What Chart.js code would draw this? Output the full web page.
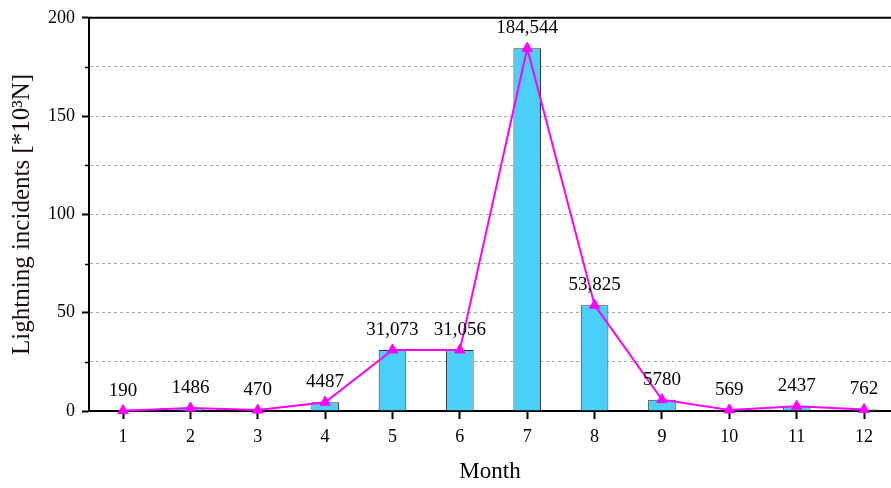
<!DOCTYPE html>
<html>
<head>
<meta charset="utf-8">
<script src="https://cdn.jsdelivr.net/npm/chart.js@4/dist/chart.umd.min.js"></script>
<style>
  html, body { margin: 0; padding: 0; background: #fff; overflow: hidden; }
  #c { display: block; }
</style>
</head>
<body>
<canvas id="c" width="898" height="488"></canvas>
<script>
// Monthly lightning incidents (raw counts)
const months = [1, 2, 3, 4, 5, 6, 7, 8, 9, 10, 11, 12];
const incidents = [190, 1486, 470, 4487, 31073, 31056, 184544, 53825, 5780, 569, 2437, 762];
const yTicks = [0, 50, 100, 150, 200];

// plotted in thousands
const valuesK = incidents.map(v => v / 1000);
const points = months.map((m, i) => ({ x: m, y: valuesK[i] }));

// labels: comma grouping only for five-digit counts and above
const fmt = v => v >= 10000 ? v.toLocaleString('en-US') : String(v);

const FONT = "'Liberation Serif', 'Times New Roman', serif";

const framePlugin = {
  id: 'frame',
  afterDraw(chart) {
    const { ctx, chartArea: a, scales: { y } } = chart;
    ctx.save();
    ctx.strokeStyle = '#000';
    // top frame line
    ctx.lineWidth = 2;
    ctx.beginPath();
    ctx.moveTo(a.left - 1, a.top);
    ctx.lineTo(chart.width, a.top);
    ctx.stroke();
    // short minor ticks between labelled values
    ctx.lineWidth = 1.5;
    for (let v = 25; v < 200; v += 50) {
      const py = Math.round(y.getPixelForValue(v)) + 0.5;
      ctx.beginPath();
      ctx.moveTo(a.left - 4, py);
      ctx.lineTo(a.left, py);
      ctx.stroke();
    }
    ctx.restore();
  },
  afterDatasetsDraw(chart) {
    const { ctx, scales: { x, y } } = chart;
    ctx.save();
    ctx.font = '19px ' + FONT;
    ctx.fillStyle = '#000';
    ctx.textAlign = 'center';
    ctx.textBaseline = 'middle';
    incidents.forEach((v, i) => {
      const px = x.getPixelForValue(months[i]);
      const py = y.getPixelForValue(valuesK[i]) - 20;
      ctx.fillText(fmt(v), px, py);
    });
    ctx.restore();
  }
};

new Chart(document.getElementById('c'), {
  data: {
    datasets: [
      {
        type: 'line',
        data: points,
        borderColor: '#ff00ff',
        backgroundColor: '#ff00ff',
        borderWidth: 2,
        tension: 0,
        pointStyle: 'triangle',
        pointRadius: 6,
        pointBorderWidth: 1,
        pointBorderColor: '#ff00ff',
        clip: false,
        order: 0
      },
      {
        type: 'bar',
        data: points,
        backgroundColor: '#49cff8',
        borderColor: '#333',
        borderWidth: 1,
        categoryPercentage: 1,
        barPercentage: 0.41,
        order: 1
      }
    ]
  },
  options: {
    responsive: false,
    animation: false,
    events: [],
    layout: { padding: { top: 15, right: 0, bottom: 0, left: 0 } },
    plugins: { legend: { display: false }, tooltip: { enabled: false } },
    scales: {
      x: {
        type: 'linear',
        offset: false,
        min: 0.495,
        max: 12.4,
        afterBuildTicks(s) { s.ticks = months.map(m => ({ value: m })); },
        grid: {
          offset: false,
          drawOnChartArea: false,
          drawTicks: true,
          tickLength: 8,
          tickWidth: 2,
          tickColor: '#000'
        },
        border: { display: true, color: '#000', width: 2 },
        ticks: {
          color: '#000',
          padding: 7,
          maxRotation: 0,
          autoSkip: false,
          font: { family: FONT, size: 18 },
          callback: v => String(v)
        },
        title: {
          display: true,
          text: 'Month',
          color: '#000',
          padding: { top: 0, bottom: 2 },
          font: { family: FONT, size: 23 }
        },
        afterFit(s) {
          s.height = 77;
          s.paddingLeft = 0;
          s.paddingRight = 0;
        }
      },
      y: {
        min: 0,
        max: 200,
        afterBuildTicks(s) {
          s.ticks = [];
          for (let v = 0; v <= 200; v += 25) s.ticks.push({ value: v });
        },
        grid: {
          drawOnChartArea: true,
          color: '#a8a8a8',
          lineWidth: 1,
          drawTicks: true,
          tickLength: 7,
          tickWidth: 2,
          tickColor: ctx => (yTicks.includes(ctx.tick && ctx.tick.value) ? '#000' : 'rgba(0,0,0,0)')
        },
        border: { display: true, color: '#000', width: 2, dash: [3, 3] },
        ticks: {
          color: '#000',
          padding: 7,
          font: { family: FONT, size: 18 },
          callback: v => (yTicks.includes(v) ? String(v) : '')
        },
        title: {
          display: true,
          text: 'Lightning incidents [*10³N]',
          color: '#1a1010',
          padding: { top: 7, bottom: 0 },
          font: { family: FONT, size: 25 }
        },
        afterFit(s) { s.width = 89; }
      }
    }
  },
  plugins: [framePlugin]
});
</script>
</body>
</html>
